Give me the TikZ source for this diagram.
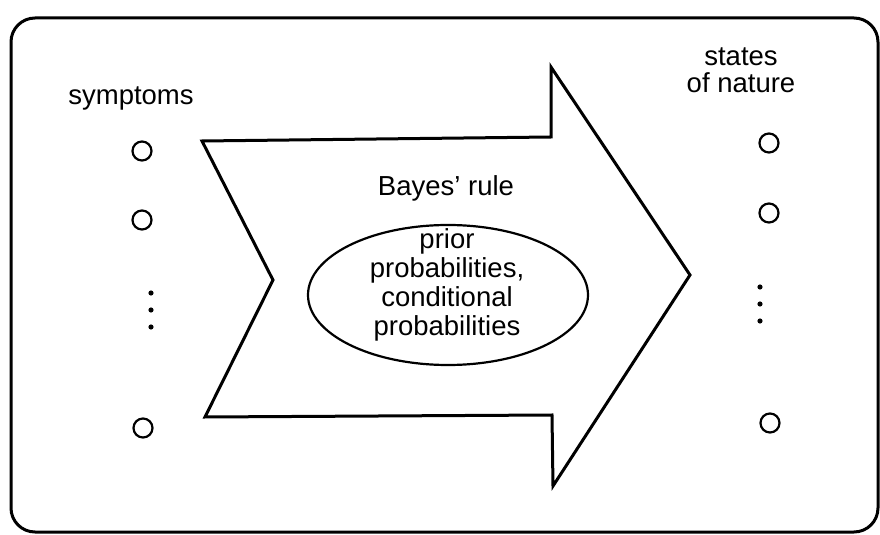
\documentclass[tikz,border=0pt]{standalone}
\usepackage{fontspec}
\setmainfont{Liberation Sans}
\usetikzlibrary{shapes.geometric}

\begin{document}
\begin{tikzpicture}[x=0.5pt, y=-0.5pt,
  state/.style={circle, draw, line width=1.1pt, minimum size=9.5pt, inner sep=0pt},
  dot/.style={circle, fill, minimum size=2.6pt, inner sep=0pt},
  lbl/.style={font=\fontsize{13.75}{13.5}\selectfont, align=center, inner sep=0pt}]
  \useasboundingbox (0,0) rectangle (880,535);
  \draw[line width=1.5pt, rounded corners=12pt] (11,18) rectangle (878,532);

  % Pfeil
  \draw[line width=1.5pt, line join=miter] (202,141) -- (551,137) -- (551,67) -- (690,275)
    -- (553,486) -- (552,415) -- (205,417) -- (273,280) -- cycle;
  \node[lbl] (bayes) at (446,188) {Bayes' rule};
  \node[draw, ellipse, line width=1.1pt, minimum width=140pt, minimum height=70pt] (prior) at (448,295) {};
  \node[lbl, font=\fontsize{13.75}{14.5}\selectfont] (probs) at (447,285)
    {prior\\probabilities,\\conditional\\probabilities};

  % links
  \node[lbl] (symptoms) at (131,98) {symptoms};
  \node[state] (s1) at (142,151) {};
  \node[state] (s2) at (142,220) {};
  \node[dot] (sd1) at (151,293) {};
  \node[dot] (sd2) at (151,310) {};
  \node[dot] (sd3) at (151,327) {};
  \node[state] (sn) at (143,428) {};

  % rechts
  \node[lbl] (states) at (741,70) {states\\of nature};
  \node[state] (z1) at (769,143) {};
  \node[state] (z2) at (769,213) {};
  \node[dot] (zd1) at (760,287) {};
  \node[dot] (zd2) at (760,304) {};
  \node[dot] (zd3) at (760,321) {};
  \node[state] (zn) at (770,423) {};
\end{tikzpicture}
\end{document}
